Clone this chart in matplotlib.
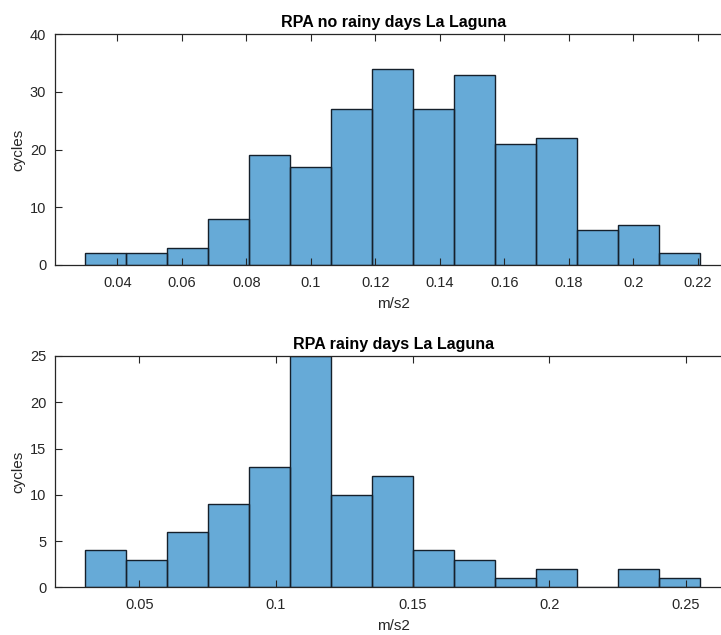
import numpy as np
import matplotlib
matplotlib.use("Agg")
import matplotlib.pyplot as plt

plt.rcParams["font.family"] = ["Liberation Sans", "DejaVu Sans"]

# bin counts read per histogram (15 equal bins between data min and max)
no_rain_counts = [2, 2, 3, 8, 19, 17, 27, 34, 27, 33, 21, 22, 6, 7, 2]
no_rain_range = (0.0300, 0.2208)
no_rain_xticks = [0.04, 0.06, 0.08, 0.1, 0.12, 0.14, 0.16, 0.18, 0.2, 0.22]
no_rain_xlim = (0.0205, 0.2306)
no_rain_yticks = [0, 10, 20, 30, 40]

rain_counts = [4, 3, 6, 9, 13, 25, 10, 12, 4, 3, 1, 2, 0, 2, 1]
rain_range = (0.030, 0.255)
rain_xticks = [0.05, 0.1, 0.15, 0.2, 0.25]
rain_xlim = (0.0190, 0.2669)
rain_yticks = [0, 5, 10, 15, 20, 25]

FACE = (0.4, 0.668, 0.845)
AXCOL = "#262626"

fig = plt.figure(figsize=(7.21, 6.35), dpi=100)
ax1 = fig.add_axes([0.0756, 0.5827, 0.9397, 0.3633])
ax2 = fig.add_axes([0.0756, 0.0751, 0.9397, 0.3643])


def draw_hist(ax, counts, rng, xticks, xlim, yticks, title):
    edges = np.linspace(rng[0], rng[1], len(counts) + 1)
    ax.stairs(counts, edges, fill=True, facecolor=FACE, edgecolor="none")
    ax.bar(edges[:-1], counts, width=np.diff(edges), align="edge",
           facecolor="none", edgecolor="#15202b", linewidth=1.0)
    ax.set_xlim(*xlim)
    ax.set_ylim(yticks[0], yticks[-1])
    ax.set_xticks(xticks)
    ax.set_xticklabels([f"{t:g}" for t in xticks])
    ax.set_yticks(yticks)
    ax.tick_params(direction="in", length=5, width=0.8, colors=AXCOL,
                   labelsize=10.5, top=True, right=False)
    ax.tick_params(axis="x", pad=8)
    ax.tick_params(axis="y", pad=6)
    for side in ["left", "bottom", "top"]:
        ax.spines[side].set_color(AXCOL)
        ax.spines[side].set_linewidth(0.9)
    ax.spines["right"].set_visible(False)
    ax.set_xlabel("m/s2", fontsize=11, color=AXCOL, labelpad=5)
    ax.set_ylabel("cycles", fontsize=11, color=AXCOL, labelpad=3)
    ax.set_title(title, fontsize=11.5, fontweight="bold", color="black", pad=5,
                 x=0.5)


draw_hist(ax1, no_rain_counts, no_rain_range, no_rain_xticks, no_rain_xlim,
          no_rain_yticks, "RPA no rainy days La Laguna")
draw_hist(ax2, rain_counts, rain_range, rain_xticks, rain_xlim,
          rain_yticks, "RPA rainy days La Laguna")

fig.savefig("out.png", dpi=100)
